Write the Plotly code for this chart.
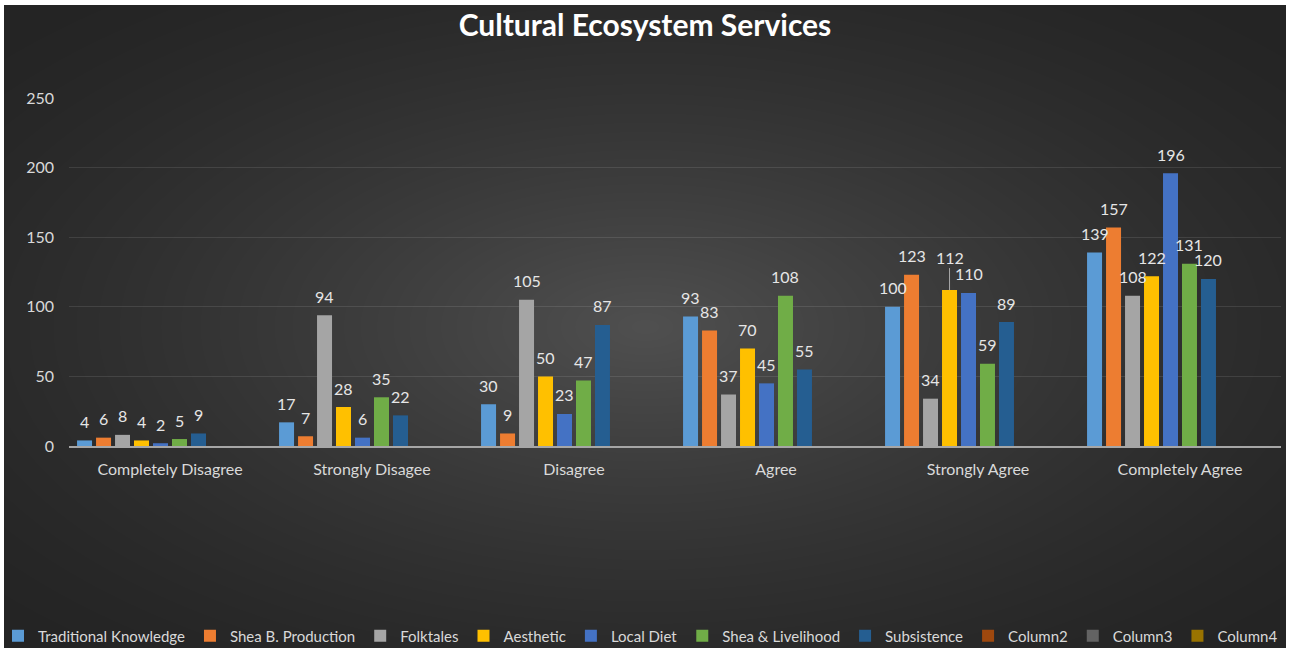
import plotly.graph_objects as go
import numpy as np
import zlib, struct, base64

categories = ["Completely Disagree", "Strongly Disagee", "Disagree", "Agree",
              "Strongly Agree", "Completely Agree"]
series_names = ["Traditional Knowledge", "Shea B. Production", "Folktales", "Aesthetic",
                "Local Diet", "Shea & Livelihood", "Subsistence", "Column2", "Column3", "Column4"]
traditional_knowledge = [4, 17, 30, 93, 100, 139]
shea_b_production = [6, 7, 9, 83, 123, 157]
folktales = [8, 94, 105, 37, 34, 108]
aesthetic = [4, 28, 50, 70, 112, 122]
local_diet = [2, 6, 23, 45, 110, 196]
shea_livelihood = [5, 35, 47, 108, 59, 131]
subsistence = [9, 22, 87, 55, 89, 120]
column2 = [None] * 6
column3 = [None] * 6
column4 = [None] * 6
all_values = [traditional_knowledge, shea_b_production, folktales, aesthetic, local_diet,
              shea_livelihood, subsistence, column2, column3, column4]
colors = ["#5B9BD5", "#ED7D31", "#A5A5A5", "#FFC000", "#4472C4", "#70AD47",
          "#255E91", "#9E480E", "#636363", "#997300"]

W, H = 1290, 652
L, R, T, B = 69, 9, 98, 206
plot_w = W - L - R
plot_h = H - T - B
BARGAP = 0.06
BARGROUPGAP = 0.21
FONT = "Lato"


def png_uri(arr):
    h, w = arr.shape
    raw = b"".join(b"\x00" + arr[i].tobytes() for i in range(h))

    def chunk(t, d):
        c = struct.pack(">I", len(d)) + t + d
        return c + struct.pack(">I", zlib.crc32(t + d) & 0xffffffff)

    png = (b"\x89PNG\r\n\x1a\n"
           + chunk(b"IHDR", struct.pack(">IIBBBBB", w, h, 8, 0, 0, 0, 0))
           + chunk(b"IDAT", zlib.compress(raw, 9))
           + chunk(b"IEND", b""))
    return "data:image/png;base64," + base64.b64encode(png).decode()


# radial background gradient
bx0, by0, bx1, by1 = 4, 5, 1286, 648
bw, bh = bx1 - bx0, by1 - by0
yy, xx = np.mgrid[0:bh, 0:bw]
dx = (xx - bw / 2) / (bw / 2)
dy = (yy - bh / 2) / (bh / 2)
r = np.clip(np.sqrt(dx ** 2 + dy ** 2) / np.sqrt(2), 0, 1)
g = 36 + 44 * (1 - r) ** 1.5
bg = np.clip(g, 0, 255).astype(np.uint8)

fig = go.Figure()
for name, vals, col in zip(series_names, all_values, colors):
    fig.add_trace(go.Bar(name=name, x=categories, y=vals, marker=dict(color=col, line=dict(width=0))))

# data labels
slot = plot_w / len(categories) * (1 - BARGAP) / len(series_names)
n = len(series_names)
for i, vals in enumerate(all_values):
    for c, v in zip(categories, vals):
        if v is None:
            continue
        xs = (i - (n - 1) / 2) * slot
        if c == "Strongly Agree" and series_names[i] == "Aesthetic":
            fig.add_annotation(x=c, y=v, xshift=xs, text=str(v), showarrow=True,
                               arrowhead=0, arrowwidth=1, arrowcolor="#a6a6a6",
                               ax=0, ay=-33, standoff=0,
                               font=dict(family=FONT, size=16, color="#e6e6e6"))
        else:
            fig.add_annotation(x=c, y=v, xshift=xs, yshift=19, yanchor="middle",
                               text=str(v), showarrow=False,
                               font=dict(family=FONT, size=16, color="#e6e6e6"))

fig.add_layout_image(dict(source=png_uri(bg), xref="paper", yref="paper",
                          x=(bx0 - L) / plot_w, y=(H - B - by0) / plot_h,
                          sizex=bw / plot_w, sizey=bh / plot_h,
                          xanchor="left", yanchor="top", sizing="stretch", layer="below"))

fig.update_layout(
    width=W, height=H,
    margin=dict(l=L, r=R, t=T, b=B, autoexpand=False),
    paper_bgcolor="white", plot_bgcolor="rgba(0,0,0,0)",
    barmode="group", bargap=BARGAP, bargroupgap=BARGROUPGAP,
    font=dict(family=FONT, color="#d9d9d9", size=16),
    title=dict(text="<b>Cultural Ecosystem Services</b>", x=0.5, xref="container",
               xanchor="center", y=1 - 25 / H, yref="container", yanchor="middle",
               font=dict(family=FONT, size=30, color="white")),
    legend=dict(orientation="h", x=(-2 - L) / plot_w, xanchor="left",
                y=-(636 - (H - B)) / plot_h, yanchor="middle",
                font=dict(family=FONT, size=15, color="#d9d9d9"),
                bgcolor="rgba(0,0,0,0)", itemclick=False),
    showlegend=True,
)
fig.update_xaxes(showline=True, linecolor="#a6a6a6", linewidth=1.5, showgrid=False,
                 ticks="", tickfont=dict(family=FONT, size=16, color="#d9d9d9"),
                 ticklabelstandoff=8)
fig.update_yaxes(range=[0, 250], dtick=50, showgrid=True, gridcolor="rgba(255,255,255,0.1)",
                 gridwidth=1, zeroline=False, showline=False, ticks="",
                 tickfont=dict(family=FONT, size=16, color="#d9d9d9"),
                 ticklabelstandoff=14)

fig.write_html("out.html")
